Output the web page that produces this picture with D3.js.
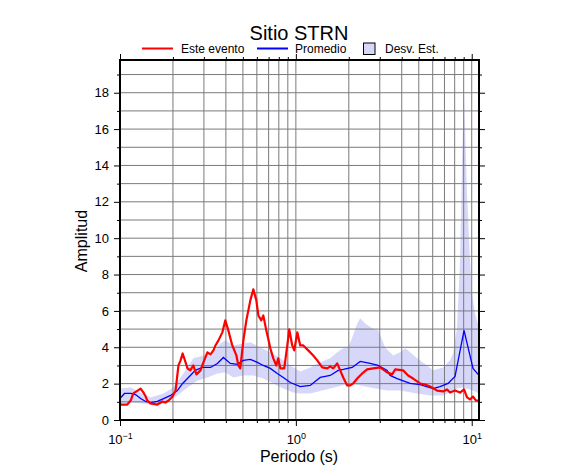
<!DOCTYPE html>
<html>
<head>
<meta charset="utf-8">
<script src="https://cdn.jsdelivr.net/npm/d3@7"></script>
<style>
  body { margin: 0; background: #fff; }
  svg { font-family: "Liberation Sans", Arial, Helvetica, sans-serif; }
</style>
</head>
<body>
<div id="chart"></div>
<script>
// ---- datos ----
// Este evento
var eventoT = [0.1, 0.110, 0.115, 0.119, 0.126, 0.131, 0.136, 0.140, 0.143, 0.149, 0.163, 0.174, 0.181, 0.189, 0.199, 0.207,
  0.215, 0.221, 0.227, 0.236, 0.242, 0.251, 0.261, 0.272, 0.287, 0.298, 0.314, 0.327, 0.340, 0.349, 0.363, 0.382, 0.397,
  0.413, 0.435, 0.459, 0.471, 0.483, 0.503, 0.523, 0.551, 0.573, 0.596, 0.612, 0.636, 0.653, 0.679, 0.716, 0.744, 0.774,
  0.794, 0.816, 0.859, 0.894, 0.917, 0.954, 0.979, 1.019, 1.059, 1.102, 1.176, 1.255, 1.323, 1.412, 1.508, 1.568, 1.631,
  1.718, 1.787, 1.859, 1.959, 2.037, 2.119, 2.233, 2.384, 2.544, 2.752, 3.015, 3.304, 3.527, 3.669, 4.073, 4.347, 4.642,
  5.087, 5.43, 5.797, 6.353, 6.871, 7.240, 7.530, 8.038, 8.582, 9.043, 9.404, 9.779, 10.17, 10.58, 11.0];
var eventoA = [0.85, 0.85, 1.07, 1.46, 1.62, 1.73, 1.51, 1.29, 1.07, 0.91, 0.85, 1.02, 0.96, 1.07, 1.29, 1.62,
  3.00, 3.28, 3.66, 3.17, 2.84, 2.73, 3.00, 2.51, 2.73, 3.17, 3.72, 3.61, 3.83, 4.10, 4.38, 4.82, 5.48,
  4.93, 4.10, 3.55, 3.00, 2.84, 4.38, 5.48, 6.58, 7.19, 6.58, 5.75, 5.48, 5.75, 4.93, 3.94, 3.39, 3.00,
  3.39, 2.84, 2.84, 4.10, 4.98, 4.10, 3.83, 4.82, 4.10, 4.10, 3.83, 3.55, 3.28, 2.89, 2.84, 2.95, 2.84,
  3.11, 2.73, 2.34, 1.90, 1.90, 2.01, 2.28, 2.56, 2.78, 2.84, 2.89, 2.62, 2.51, 2.78, 2.73, 2.45, 2.28,
  2.01, 1.95, 1.84, 1.62, 1.57, 1.68, 1.51, 1.62, 1.51, 1.68, 1.24, 1.13, 1.29, 1.07, 1.07];

// Promedio
var promT = [0.1, 0.106, 0.115, 0.1225, 0.131, 0.140, 0.149, 0.163, 0.177, 0.194, 0.212, 0.227, 0.245, 0.268, 0.294,
  0.327, 0.358, 0.387, 0.424, 0.465, 0.503, 0.551, 0.604, 0.653, 0.716, 0.784, 0.848, 0.930, 1.059, 1.207, 1.376,
  1.568, 1.741, 1.859, 2.091, 2.322, 2.646, 2.937, 3.304, 3.436, 3.766, 4.463, 5.087, 6.029, 6.607, 7.336, 8.038,
  9.043, 10.17, 11.0];
var promA = [1.18, 1.46, 1.46, 1.40, 1.18, 1.02, 0.96, 1.02, 1.18, 1.35, 1.62, 2.01, 2.34, 2.73, 2.89,
  2.89, 3.11, 3.44, 3.11, 3.06, 3.28, 3.33, 3.17, 3.00, 2.84, 2.56, 2.34, 2.06, 1.84, 1.90, 2.34,
  2.45, 2.73, 2.78, 2.89, 3.22, 3.11, 3.00, 2.73, 2.45, 2.28, 2.01, 1.95, 1.73, 1.84, 2.01, 2.40,
  4.93, 2.84, 2.45];

// Desviacion estandar: borde superior e inferior
var desvSupT = [0.1, 0.115, 0.131, 0.149, 0.177, 0.201, 0.221, 0.242, 0.261, 0.298, 0.340, 0.372, 0.397, 0.441, 0.503,
  0.551, 0.628, 0.716, 0.816, 0.930, 1.059, 1.207, 1.376, 1.568, 1.718, 1.859, 1.984, 2.091, 2.233, 2.322, 2.479,
  2.716, 2.937, 3.218, 3.574, 3.916, 4.181, 4.463, 4.891, 5.574, 6.029, 6.871, 7.530, 7.830, 8.251, 8.582, 8.81,
  9.04, 9.404, 9.779, 10.04, 10.44, 11.0];
var desvSup = [1.73, 1.79, 1.51, 1.24, 1.46, 1.79, 2.34, 2.89, 3.39, 3.55, 3.72, 4.21, 4.38, 4.10, 4.21,
  4.27, 3.99, 3.72, 3.39, 3.00, 2.67, 2.89, 3.17, 3.39, 3.72, 3.94, 3.99, 4.54, 5.31, 5.59, 5.31,
  5.04, 4.93, 3.99, 3.55, 3.72, 3.94, 3.72, 3.39, 3.00, 2.73, 2.89, 3.28, 3.66, 5.09, 8.78, 14.29,
  17.98, 12.47, 8.78, 6.97, 5.86, 5.09];
var desvInfT = [0.1, 0.115, 0.136, 0.163, 0.186, 0.212, 0.242, 0.276, 0.314, 0.358, 0.397, 0.441, 0.503, 0.573, 0.653,
  0.744, 0.848, 0.967, 1.059, 1.207, 1.568, 2.037, 2.646, 3.304, 3.916, 4.891, 5.797, 6.871, 7.530, 8.251, 8.925,
  10.17, 11.0];
var desvInf = [0.91, 0.96, 0.91, 0.80, 0.96, 1.35, 1.79, 2.17, 2.34, 2.56, 2.62, 2.34, 2.45, 2.45, 2.28,
  2.01, 1.73, 1.51, 1.46, 1.46, 1.73, 2.01, 1.79, 1.62, 1.62, 1.46, 1.35, 1.35, 1.51, 1.73, 1.79,
  1.62, 1.46];

// ticks
var xMayor = [0.1, 1, 10];
var xExpo = ['\u22121', '0', '1'];
var xMenor = [0.2, 0.3, 0.4, 0.5, 0.6, 0.7, 0.8, 0.9, 2, 3, 4, 5, 6, 7, 8, 9];
var yMayor = [0, 2, 4, 6, 8, 10, 12, 14, 16, 18];
var yMenor = [1, 3, 5, 7, 9, 11, 13, 15, 17, 19];
var leyenda = ['Este evento', 'Promedio', 'Desv. Est.'];

var width = 586, height = 475;
var pLeft = 120, pRight = 479, pTop = 60, pBottom = 420;
var colorRojo = '#ff0000', colorAzul = '#0000ff', colorBanda = '#d7d7fa';

var svg = d3.select('#chart').append('svg')
  .attr('width', width)
  .attr('height', height);

var x = d3.scaleLog().domain([0.1, 11]).range([pLeft, pRight]);
var y = d3.scaleLinear().domain([0, 19.8]).range([pBottom, pTop]);

svg.append('defs').append('clipPath').attr('id', 'clip')
  .append('rect').attr('x', pLeft).attr('y', pTop)
  .attr('width', pRight - pLeft).attr('height', pBottom - pTop);

var plot = svg.append('g').attr('clip-path', 'url(#clip)');

// banda
var puntosBanda = desvSupT.map(function (t, i) { return [t, desvSup[i]]; })
  .concat(desvInfT.map(function (t, i) { return [t, desvInf[i]]; }).reverse());
plot.append('path')
  .attr('d', d3.line().x(function (d) { return x(d[0]); }).y(function (d) { return y(d[1]); })(puntosBanda) + 'Z')
  .attr('fill', colorBanda)
  .attr('stroke', 'none');

// rejilla
plot.append('g').selectAll('line')
  .data(xMenor.concat([1, 10]))
  .enter().append('line')
  .attr('x1', function (d) { return x(d); })
  .attr('x2', function (d) { return x(d); })
  .attr('y1', pTop).attr('y2', pBottom)
  .attr('stroke', '#7a7a7a').attr('stroke-width', 1);
plot.append('g').selectAll('line')
  .data(yMayor.concat(yMenor).filter(function (d) { return d > 0; }))
  .enter().append('line')
  .attr('x1', pLeft).attr('x2', pRight)
  .attr('y1', function (d) { return y(d); })
  .attr('y2', function (d) { return y(d); })
  .attr('stroke', '#7a7a7a').attr('stroke-width', 1);

// curvas
var linea = d3.line()
  .x(function (d) { return x(d[0]); })
  .y(function (d) { return y(d[1]); });

plot.append('path')
  .attr('d', linea(promT.map(function (t, i) { return [t, promA[i]]; })))
  .attr('fill', 'none')
  .attr('stroke', colorAzul)
  .attr('stroke-width', 1.3);

plot.append('path')
  .attr('d', linea(eventoT.map(function (t, i) { return [t, eventoA[i]]; })))
  .attr('fill', 'none')
  .attr('stroke', colorRojo)
  .attr('stroke-width', 2.2)
  .attr('stroke-linejoin', 'round');

// ejes
function limpiar(g) {
  g.select('.domain').remove();
  g.selectAll('.tick line').attr('stroke', '#000');
}

var ejeAbajo = svg.append('g').attr('transform', 'translate(0,' + pBottom + ')')
  .call(d3.axisBottom(x).tickValues(xMayor).tickSize(6).tickFormat(''));
limpiar(ejeAbajo);
ejeAbajo.selectAll('.tick text').remove();
ejeAbajo.selectAll('.tick').append('text')
  .attr('y', 24)
  .attr('fill', '#000')
  .attr('font-size', 13)
  .attr('text-anchor', 'middle')
  .each(function (d, i) {
    var t = d3.select(this);
    t.append('tspan').text('10');
    t.append('tspan').attr('dy', -5).attr('font-size', 9).text(xExpo[i]);
  });
svg.append('g').attr('transform', 'translate(0,' + pBottom + ')')
  .call(d3.axisBottom(x).tickValues(xMenor).tickSize(3).tickFormat(''))
  .call(limpiar);

svg.append('g').attr('transform', 'translate(0,' + pTop + ')')
  .call(d3.axisTop(x).tickValues(xMayor).tickSize(6).tickFormat(''))
  .call(limpiar);
svg.append('g').attr('transform', 'translate(0,' + pTop + ')')
  .call(d3.axisTop(x).tickValues(xMenor).tickSize(3).tickFormat(''))
  .call(limpiar);

var ejeIzq = svg.append('g').attr('transform', 'translate(' + pLeft + ',0)')
  .call(d3.axisLeft(y).tickValues(yMayor).tickSize(6).tickPadding(5).tickFormat(d3.format('d')));
limpiar(ejeIzq);
ejeIzq.selectAll('.tick text').attr('font-size', 13).attr('fill', '#000')
  .attr('font-family', '"Liberation Sans", Arial, sans-serif');
svg.append('g').attr('transform', 'translate(' + pLeft + ',0)')
  .call(d3.axisLeft(y).tickValues(yMenor).tickSize(3).tickFormat(''))
  .call(limpiar);

svg.append('g').attr('transform', 'translate(' + pRight + ',0)')
  .call(d3.axisRight(y).tickValues(yMayor).tickSize(6).tickFormat(''))
  .call(limpiar);
svg.append('g').attr('transform', 'translate(' + pRight + ',0)')
  .call(d3.axisRight(y).tickValues(yMenor).tickSize(3).tickFormat(''))
  .call(limpiar);

// marco
svg.append('rect')
  .attr('x', pLeft).attr('y', pTop)
  .attr('width', pRight - pLeft).attr('height', pBottom - pTop)
  .attr('fill', 'none').attr('stroke', '#000').attr('stroke-width', 2);

// textos
svg.append('text')
  .attr('x', 299).attr('y', 40)
  .attr('text-anchor', 'middle')
  .attr('font-size', 20)
  .text('Sitio STRN');

svg.append('text')
  .attr('x', 299).attr('y', 462)
  .attr('text-anchor', 'middle')
  .attr('font-size', 16)
  .text('Periodo (s)');

svg.append('text')
  .attr('transform', 'translate(86.5,241) rotate(-90)')
  .attr('text-anchor', 'middle')
  .attr('font-size', 16)
  .text('Amplitud');

// leyenda
var ley = svg.append('g').attr('font-size', 12);
ley.append('line').attr('x1', 142).attr('x2', 173).attr('y1', 48.5).attr('y2', 48.5)
  .attr('stroke', colorRojo).attr('stroke-width', 2);
ley.append('text').attr('x', 181).attr('y', 53).text(leyenda[0]);
ley.append('line').attr('x1', 257).attr('x2', 288).attr('y1', 48.5).attr('y2', 48.5)
  .attr('stroke', colorAzul).attr('stroke-width', 2);
ley.append('text').attr('x', 295).attr('y', 53).text(leyenda[1]);
ley.append('rect').attr('x', 363.5).attr('y', 43).attr('width', 11.5).attr('height', 11.5)
  .attr('fill', colorBanda).attr('stroke', '#000').attr('stroke-width', 1);
ley.append('text').attr('x', 385).attr('y', 53).text(leyenda[2]);
</script>
</body>
</html>
